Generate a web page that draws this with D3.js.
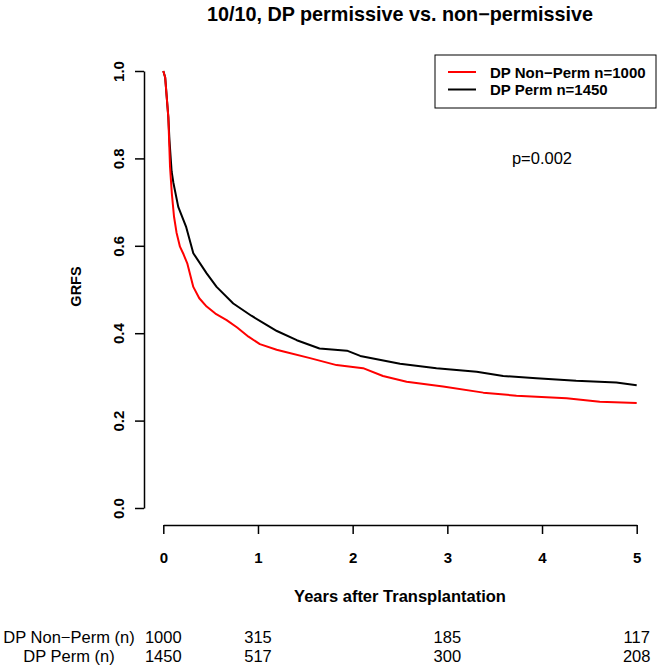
<!DOCTYPE html>
<html>
<head>
<meta charset="utf-8">
<script src="https://cdn.jsdelivr.net/npm/d3@7"></script>
<style>
  html, body { margin: 0; padding: 0; background: #fff; }
  svg { display: block; font-family: "Liberation Sans", Arial, Helvetica, sans-serif; }
</style>
</head>
<body>
<svg id="chart" width="661" height="667"></svg>
<script>
// ---------- data ----------
const title = "10/10, DP permissive vs. non\u2212permissive";
const xLabel = "Years after Transplantation";
const yLabel = "GRFS";
const pValueText = "p=0.002";

const seriesNames = ["DP Non\u2212Perm n=1000", "DP Perm n=1450"];
const seriesColors = ["#ff0000", "#000000"];

const nonPermTime = [0, 0.02, 0.04, 0.053, 0.071, 0.09, 0.113, 0.14, 0.176, 0.215, 0.253, 0.317, 0.38, 0.458, 0.55, 0.669, 0.78, 0.9, 1.02, 1.197, 1.27, 1.55, 1.83, 2.11, 2.32, 2.57, 2.955, 3.38, 3.73, 4.26, 4.61, 5.0];
const nonPermSurv = [1.0, 0.985, 0.93, 0.895, 0.781, 0.72, 0.667, 0.63, 0.598, 0.58, 0.56, 0.506, 0.48, 0.461, 0.445, 0.43, 0.413, 0.392, 0.375, 0.362, 0.358, 0.343, 0.327, 0.32, 0.302, 0.289, 0.278, 0.264, 0.257, 0.251, 0.243, 0.24];

const permTime = [0, 0.02, 0.04, 0.053, 0.065, 0.088, 0.106, 0.158, 0.24, 0.317, 0.458, 0.563, 0.739, 0.93, 1.09, 1.2, 1.41, 1.65, 1.94, 2.08, 2.5, 2.885, 3.31, 3.59, 3.94, 4.36, 4.785, 5.0];
const permSurv = [1.0, 0.985, 0.93, 0.895, 0.842, 0.77, 0.745, 0.689, 0.644, 0.583, 0.537, 0.506, 0.468, 0.44, 0.419, 0.405, 0.384, 0.365, 0.36, 0.348, 0.33, 0.32, 0.312, 0.302, 0.297, 0.291, 0.287, 0.281];

const xTicks = [0, 1, 2, 3, 4, 5];
const yTicks = [0.0, 0.2, 0.4, 0.6, 0.8, 1.0];

const riskTimes = [0, 1, 3, 5];
const riskLabels = ["DP Non\u2212Perm (n)", "DP Perm (n)"];
const riskNonPerm = [1000, 315, 185, 117];
const riskPerm = [1450, 517, 300, 208];

// ---------- layout ----------
const svg = d3.select("#chart");
svg.append("rect").attr("width", 661).attr("height", 667).attr("fill", "#fff");

const x = d3.scaleLinear().domain([0, 5]).range([163.3, 636.7]);
const y = d3.scaleLinear().domain([0, 1]).range([508, 71]);

// title
svg.append("text")
  .attr("x", 400).attr("y", 14)
  .attr("text-anchor", "middle").attr("dominant-baseline", "central")
  .attr("font-weight", "bold").attr("font-size", 19.8)
  .text(title);

// x axis
const xAxis = d3.axisBottom(x).tickValues(xTicks).tickFormat(d3.format("d")).tickSizeInner(9).tickSizeOuter(0);
const gx = svg.append("g").attr("transform", "translate(0,525)").call(xAxis);
gx.select(".domain").attr("stroke", "#000").attr("stroke-width", 1.5);
gx.selectAll(".tick line").attr("stroke", "#000").attr("stroke-width", 1.5);
gx.selectAll(".tick text")
  .attr("y", 32).attr("dy", null).attr("dominant-baseline", "central")
  .attr("font-size", 15).attr("font-weight", "bold")
  .attr("font-family", "Liberation Sans, Arial, sans-serif").attr("fill", "#000");

// y axis
const yAxis = d3.axisLeft(y).tickValues(yTicks).tickFormat(d3.format(".1f")).tickSizeInner(9).tickSizeOuter(0).tickPadding(0);
const gy = svg.append("g").attr("transform", "translate(144,0)").call(yAxis);
gy.select(".domain").attr("stroke", "#000").attr("stroke-width", 1.5);
gy.selectAll(".tick line").attr("stroke", "#000").attr("stroke-width", 1.5);
gy.selectAll(".tick text")
  .attr("font-size", 15).attr("font-weight", "bold")
  .attr("font-family", "Liberation Sans, Arial, sans-serif").attr("fill", "#000")
  .attr("x", null).attr("dy", null)
  .attr("text-anchor", "middle").attr("dominant-baseline", "central")
  .attr("transform", "translate(-26,0) rotate(-90)");

// axis titles
svg.append("text")
  .attr("x", 400).attr("y", 596)
  .attr("text-anchor", "middle").attr("dominant-baseline", "central")
  .attr("font-weight", "bold").attr("font-size", 16.5)
  .text(xLabel);
svg.append("text")
  .attr("transform", `translate(75.5,${(y(0) + y(1)) / 2 - 3}) rotate(-90)`)
  .attr("text-anchor", "middle").attr("dominant-baseline", "central")
  .attr("font-weight", "bold").attr("font-size", 14.5)
  .text(yLabel);

// curves
const line = d3.line().x(d => x(d[0])).y(d => y(d[1])).curve(d3.curveLinear);
const curves = [
  nonPermTime.map((t, i) => [t, nonPermSurv[i]]),
  permTime.map((t, i) => [t, permSurv[i]])
];
[1, 0].forEach(k => {
  svg.append("path")
    .datum(curves[k])
    .attr("fill", "none")
    .attr("stroke", seriesColors[k])
    .attr("stroke-width", 2)
    .attr("stroke-linejoin", "round")
    .attr("d", line);
});

// legend
const lg = svg.append("g");
lg.append("rect").attr("x", 435).attr("y", 55).attr("width", 221).attr("height", 53)
  .attr("fill", "#fff").attr("stroke", "#000").attr("stroke-width", 1);
seriesNames.forEach((name, i) => {
  const yy = 72 + i * 17.5;
  lg.append("line").attr("x1", 448).attr("x2", 476).attr("y1", yy).attr("y2", yy)
    .attr("stroke", seriesColors[i]).attr("stroke-width", 2);
  lg.append("text").attr("x", 490).attr("y", yy)
    .attr("dominant-baseline", "central")
    .attr("font-weight", "bold").attr("font-size", 15)
    .text(name);
});

// p-value
svg.append("text")
  .attr("x", 542).attr("y", 158)
  .attr("text-anchor", "middle").attr("dominant-baseline", "central")
  .attr("font-size", 16.5)
  .text(pValueText);

// risk table
const riskRows = [riskNonPerm, riskPerm];
riskLabels.forEach((lab, i) => {
  const yy = 637 + i * 19;
  svg.append("text").attr("x", 69).attr("y", yy)
    .attr("text-anchor", "middle").attr("dominant-baseline", "central")
    .attr("font-size", 16.5).text(lab);
  riskRows[i].forEach((n, j) => {
    svg.append("text").attr("x", x(riskTimes[j])).attr("y", yy)
      .attr("text-anchor", "middle").attr("dominant-baseline", "central")
      .attr("font-size", 16.5).text(n);
  });
});
</script>
</body>
</html>
